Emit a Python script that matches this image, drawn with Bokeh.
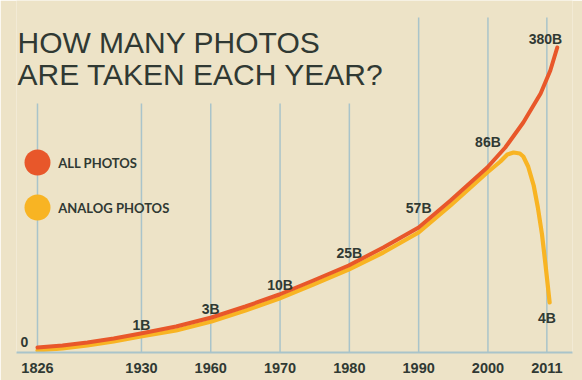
from bokeh.plotting import figure
from bokeh.models import FixedTicker
from bokeh.core.properties import value
from bokeh.embed import file_html
from bokeh.resources import INLINE

# ---- data ----
years = ["1826", "1930", "1960", "1970", "1980", "1990", "2000", "2011"]
year_slot = [0, 1.5, 2.5, 3.5, 4.5, 5.5, 6.5, 7.35]   # spacing of the year columns
all_labels = ["0", "1B", "3B", "10B", "25B", "57B", "86B", "380B"]
label_slot = [-0.19, 1.5, 2.5, 3.5, 4.5, 5.5, 6.5, 7.33]
label_level = [11, 28, 44, 68, 100, 145, 211, 314]
analog_label = "4B"
analog_label_slot = 7.35
analog_label_level = 35

# curve levels (drawing height of the infographic curve)
all_x = [0, 0.36, 0.72, 1.1, 1.49, 2.0, 2.51, 3.0, 3.49, 3.98, 4.49, 4.99, 5.50,
         5.96, 6.49, 6.75, 7.01, 7.26, 7.40, 7.50]
all_y = [5, 7, 10, 14, 19, 26, 35, 46, 58, 72, 87, 105, 125,
         152, 185, 205, 230, 259, 282, 305]
analog_x = [0, 0.36, 0.72, 1.1, 1.49, 2.0, 2.51, 3.0, 3.49, 3.98, 4.49, 4.99, 5.50,
            5.96, 6.49, 6.68, 6.78, 6.87, 6.96, 7.01, 7.08, 7.16, 7.22, 7.28, 7.33, 7.39]
analog_y = [2, 4, 7, 11, 16, 22, 31, 42, 54, 68, 83, 100, 120,
            147, 180, 191, 198, 200, 199, 196, 186, 167, 145, 118, 88, 50]

title_lines = ["HOW MANY PHOTOS", "ARE TAKEN EACH YEAR?"]
legend_names = ["ALL PHOTOS", "ANALOG PHOTOS"]

# ---- style ----
BG = "#EDE3C7"
GRID = "#A9C4CA"
RED = "#E8572A"
YEL = "#F8B423"
INK = "#303933"

p = figure(width=582, height=380, output_backend="svg", toolbar_location=None,
           x_range=(-0.303, 7.72), y_range=(0, 352),
           y_axis_location=None, min_border_left=16, min_border_right=10,
           min_border_top=0, min_border_bottom=28)
p.background_fill_color = BG
p.border_fill_color = BG
p.outline_line_color = None
p.xgrid.visible = False
p.ygrid.visible = False

ax = p.xaxis[0]
ax.ticker = FixedTicker(ticks=year_slot)
ax.major_label_overrides = {s: y for s, y in zip(year_slot, years)}
ax.axis_line_color = GRID
ax.axis_line_width = 2
ax.major_tick_line_color = None
ax.minor_tick_line_color = None
ax.major_label_standoff = 4
ax.major_label_text_font = "Liberation Sans"
ax.major_label_text_font_style = "bold"
ax.major_label_text_font_size = "14.5px"
ax.major_label_text_color = INK

# vertical column lines (shorter under the title)
grid_top = [249 if s < 5 else 335 for s in year_slot]
p.segment(x0=year_slot, y0=[0] * len(year_slot), x1=year_slot, y1=grid_top,
          line_color=GRID, line_width=1.5)

# curves
p.line(analog_x, analog_y, line_color=YEL, line_width=4.2, line_cap="round", line_join="round")
p.line(all_x, all_y, line_color=RED, line_width=4, line_cap="round", line_join="round")

# value labels
p.text(x=label_slot, y=label_level, text=all_labels, text_align="center",
       text_baseline="middle", text_font=value("Liberation Sans"),
       text_font_style="bold", text_font_size="14px", text_color=INK)
p.text(x=[analog_label_slot], y=[analog_label_level], text=[analog_label],
       text_align="center", text_baseline="middle", text_font=value("Liberation Sans"),
       text_font_style="bold", text_font_size="14px", text_color=INK)

# title
p.text(x=[-0.289, -0.289], y=[310, 278], text=title_lines, text_align="left",
       text_baseline="alphabetic", text_font=value("Liberation Sans"),
       text_font_size="30px", text_color=INK)

# legend
p.scatter(x=[0, 0], y=[190, 145], size=26, marker="circle",
          fill_color=[RED, YEL], line_color=None)
p.text(x=[0.30, 0.30], y=[190, 145], text=legend_names, text_align="left",
       text_baseline="middle", text_font=value("Lato"),
       text_font_style="bold", text_font_size="13px", text_color=INK)

html = file_html(p, INLINE)
html = html.replace("<body>", '<body style="background:%s">' % BG, 1)
open("out.html", "w").write(html)
